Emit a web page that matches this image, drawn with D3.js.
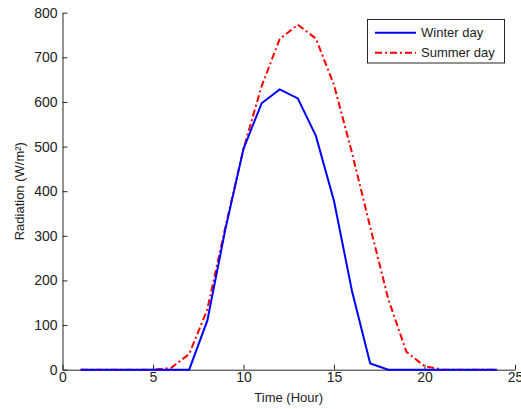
<!DOCTYPE html>
<html>
<head>
<meta charset="utf-8">
<script src="https://cdn.jsdelivr.net/npm/d3@7"></script>
<style>
  html, body { margin: 0; padding: 0; background: #ffffff; }
  svg { display: block; font-family: "Liberation Sans", Arial, sans-serif; }
</style>
</head>
<body>
<svg id="chart" width="521" height="409"></svg>
<script>
const hours = [1,2,3,4,5,6,7,8,9,10,11,12,13,14,15,16,17,18,19,20,21,22,23,24];
const winterDay = [0,0,0,0,0,0,0,110,315,495,597,628,608,524,378,175,14,0,0,0,0,0,0,0];
const summerDay = [0,0,0,0,0,4,35,135,320,495,635,741,773,742,638,485,320,158,40,8,0,0,0,0];
const xTicks = [0,5,10,15,20,25];
const yTicks = [0,100,200,300,400,500,600,700,800];
const seriesNames = ["Winter day", "Summer day"];

const svg = d3.select("#chart");
const W = 521, H = 409;
svg.append("rect").attr("width", W).attr("height", H).attr("fill", "#ffffff");

const x = d3.scaleLinear().domain([0, 25]).range([62.5, 515]);
const y = d3.scaleLinear().domain([0, 800]).range([369.7, 12.7]);

const axisColor = "#262626";

const gx = svg.append("g")
  .attr("transform", `translate(0,${y(0)})`)
  .call(d3.axisBottom(x).tickValues(xTicks).tickSizeInner(-5).tickSizeOuter(0).tickPadding(2).tickFormat(d3.format("d")));
const gy = svg.append("g")
  .attr("transform", `translate(${x(0)},0)`)
  .call(d3.axisLeft(y).tickValues(yTicks).tickSizeInner(-5).tickSizeOuter(0).tickPadding(5).tickFormat(d3.format("d")));

[gx, gy].forEach(g => {
  g.select(".domain").attr("stroke", axisColor).attr("stroke-width", 1);
  g.selectAll(".tick line").attr("stroke", axisColor).attr("stroke-width", 1);
  g.selectAll(".tick text").attr("fill", "#222").attr("font-size", 14)
    .attr("font-family", "Liberation Sans, Arial, sans-serif");
});

const line = d3.line().x((d, i) => x(hours[i])).y(d => y(d));

svg.append("path").datum(summerDay)
  .attr("d", line).attr("fill", "none")
  .attr("stroke", "#ff0000").attr("stroke-width", 2)
  .attr("stroke-dasharray", "7,3,2,3");
svg.append("path").datum(winterDay)
  .attr("d", line).attr("fill", "none")
  .attr("stroke", "#0000ff").attr("stroke-width", 2);

// axis labels
svg.append("text").attr("x", (x(0) + x(25)) / 2).attr("y", 402)
  .attr("text-anchor", "middle").attr("font-size", 13).attr("fill", "#222")
  .text("Time (Hour)");
svg.append("text")
  .attr("transform", `translate(24,${(y(0) + y(800)) / 2}) rotate(-90)`)
  .attr("text-anchor", "middle").attr("font-size", 13).attr("fill", "#222")
  .text("Radiation (W/m²)");

// legend
const lg = svg.append("g");
lg.append("rect").attr("x", 367.5).attr("y", 19.5).attr("width", 137).attr("height", 43.5)
  .attr("fill", "#ffffff").attr("stroke", axisColor).attr("stroke-width", 1);
const legendStyles = [
  { color: "#0000ff", dash: null },
  { color: "#ff0000", dash: "7,3,2,3" }
];
seriesNames.forEach((name, i) => {
  const cy = 32.7 + i * 20;
  lg.append("line").attr("x1", 375).attr("x2", 416).attr("y1", cy).attr("y2", cy)
    .attr("stroke", legendStyles[i].color).attr("stroke-width", 2)
    .attr("stroke-dasharray", legendStyles[i].dash);
  lg.append("text").attr("x", 421).attr("y", cy + 4.7)
    .attr("font-size", 13).attr("fill", "#222").text(name);
});
</script>
</body>
</html>
